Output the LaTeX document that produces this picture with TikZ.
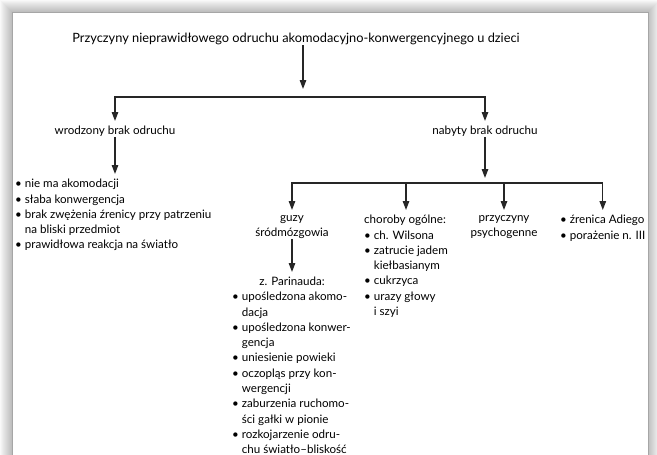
\documentclass[tikz,border=0pt]{standalone}
\usepackage{fontspec}
\setmainfont{Lato}
\usetikzlibrary{positioning,arrows.meta}

\newcommand{\ind}{\phantom{•~}}

\begin{document}
\begin{tikzpicture}[
    x=1pt, y=-1pt,
    font=\fontsize{11.6}{15.3}\selectfont,
    txt/.style={inner sep=0pt, align=center, anchor=north},
    lst/.style={inner sep=0pt, align=left, anchor=north west},
    arrow/.style={-{Triangle[length=9pt,width=6.5pt]}, line width=1.3pt, black!85, shorten >=5pt}
]
    \useasboundingbox (0,0) rectangle (657,455);
    \clip (0,0) rectangle (657,455);
    % page with shadow
    \foreach \i in {1,...,12}
        \fill[black, opacity=0.025] (12-\i,12-\i) rectangle (648+\i,480);
    \fill[white] (12,12) rectangle (648,480);
    \draw[gray!70, line width=1pt] (12,480) -- (12,12) -- (648,12) -- (648,480);

    \node[txt, font=\fontsize{12.8}{15.3}\selectfont] (title) at (296,33) {Przyczyny nieprawidłowego odruchu akomodacyjno-konwergencyjnego u dzieci};
    \coordinate (j1) at (303,97);

    \node[txt] (wrodz) at (115,126) {wrodzony brak odruchu};
    \node[txt] (nabyty) at (485,126) {nabyty brak odruchu};

    \node[lst] (wlist) at (15,179) {• nie ma akomodacji\\
        • słaba konwergencja\\
        • brak zwężenia źrenicy przy patrzeniu\\
        \ind na bliski przedmiot\\
        • prawidłowa reakcja na światło};

    \coordinate (j2) at (485,183);
    \node[txt] (guzy) at (292,215) {guzy\\śródmózgowia};
    \node[lst] (chor) at (364,215) {choroby ogólne:\\
        • ch. Wilsona\\
        • zatrucie jadem\\
        \ind kiełbasianym\\
        • cukrzyca\\
        • urazy głowy\\
        \ind i szyi};
    \node[txt] (psych) at (504,215) {przyczyny\\psychogenne};
    \node[lst] (adie) at (560,215) {• źrenica Adiego\\• porażenie n. III};

    \node[txt] (parin) at (292,277) {z. Parinauda:};
    \node[lst] (plist) at (232,292) {• upośledzona akomo-\\
        \ind dacja\\
        • upośledzona konwer-\\
        \ind gencja\\
        • uniesienie powieki\\
        • oczopląs przy kon-\\
        \ind wergencji\\
        • zaburzenia ruchomo-\\
        \ind ści gałki w pionie\\
        • rozkojarzenie odru-\\
        \ind chu światło–bliskość};

    \draw[arrow, shorten >=8pt] (title.south -| j1) -- (j1);
    \draw[arrow] (j1) -| (wrodz);
    \draw[arrow] (j1) -| (nabyty);
    \draw[arrow] (wrodz) -- (wrodz.south |- wlist.north);
    \draw[arrow] (nabyty) -- (j2);
    \draw[arrow] (j2) -| (guzy);
    \draw[arrow] (j2) -| (chor);
    \draw[arrow] (j2) -| (psych);
    \draw[arrow] (j2) -| (adie);
    \draw[arrow] (guzy) -- (parin);
\end{tikzpicture}
\end{document}
